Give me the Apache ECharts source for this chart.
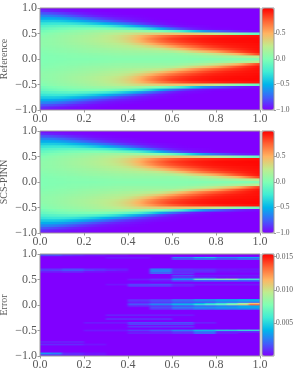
<!DOCTYPE html>
<html><head><meta charset="utf-8">
<style>html,body{margin:0;padding:0;background:#fff}#c{width:296px;height:375px}</style>
<script src="https://cdn.jsdelivr.net/npm/echarts@6/dist/echarts.min.js"></script>
</head><body>
<svg width="0" height="0" style="position:absolute">
<filter id="softU" filterUnits="userSpaceOnUse" x="0" y="0" width="296" height="375" color-interpolation-filters="sRGB"><feGaussianBlur stdDeviation="4 0.7"/></filter>
<filter id="softE" filterUnits="userSpaceOnUse" x="0" y="0" width="296" height="375" color-interpolation-filters="sRGB"><feGaussianBlur stdDeviation="1 0.5"/></filter>
</svg>
<div id="c"></div>
<script>
// Field: one list per x = 0, 0.05 ... 1, values for y = 1, 0.95 ... 0 (field is mirrored about y = 0)
var uColumns = [
[-1,-.88,-.77,-.64,-.52,-.4,-.29,-.19,-.11,-.05,0,.03,.05,.06,.06,.05,.03,.02,.01,0,0],
[-1,-.92,-.8,-.66,-.52,-.39,-.27,-.16,-.07,-.01,.04,.06,.07,.07,.07,.06,.05,.03,.02,.01,.01],
[-1,-.95,-.85,-.72,-.56,-.41,-.27,-.14,-.04,.02,.07,.09,.1,.1,.09,.08,.06,.05,.03,.02,.01],
[-1,-.97,-.9,-.79,-.64,-.47,-.29,-.13,-.02,.05,.09,.12,.13,.13,.12,.1,.08,.06,.04,.03,.02],
[-1,-.98,-.94,-.86,-.72,-.54,-.34,-.15,-.01,.08,.12,.15,.16,.16,.14,.12,.1,.08,.05,.03,.02],
[-1,-.99,-.97,-.91,-.8,-.63,-.41,-.18,0,.1,.16,.18,.2,.19,.17,.14,.11,.09,.06,.04,.02],
[-1,-1,-.98,-.95,-.87,-.72,-.5,-.24,-.01,.12,.19,.23,.24,.23,.2,.17,.13,.1,.07,.04,.03],
[-1,-1,-.99,-.97,-.92,-.81,-.6,-.32,-.05,.13,.23,.28,.29,.27,.23,.19,.15,.11,.08,.05,.03],
[-1,-1,-1,-.98,-.95,-.88,-.71,-.43,-.11,.13,.28,.35,.37,.34,.28,.22,.17,.12,.09,.05,.03],
[-1,-1,-1,-.99,-.97,-.93,-.82,-.56,-.2,.11,.33,.46,.5,.46,.37,.27,.19,.13,.09,.05,.03],
[-1,-1,-1,-1,-.99,-.96,-.9,-.71,-.34,.06,.36,.58,.64,.6,.48,.34,.22,.14,.09,.05,.03],
[-1,-1,-1,-1,-1,-.98,-.95,-.84,-.52,0,.4,.68,.75,.72,.6,.43,.26,.15,.09,.05,.03],
[-1,-1,-1,-1,-1,-.99,-.98,-.92,-.7,-.1,.42,.76,.84,.8,.7,.55,.35,.18,.08,.05,.03],
[-1,-1,-1,-1,-1,-1,-.99,-.97,-.84,-.25,.42,.82,.88,.86,.78,.66,.47,.25,.11,.05,.03],
[-1,-1,-1,-1,-1,-1,-1,-.98,-.93,-.42,.4,.86,.92,.9,.84,.74,.6,.35,.15,.06,.02],
[-1,-1,-1,-1,-1,-1,-1,-.99,-.97,-.6,.33,.89,.94,.93,.89,.82,.7,.45,.2,.08,.02],
[-1,-1,-1,-1,-1,-1,-1,-1,-.99,-.72,.24,.91,.96,.95,.92,.87,.78,.55,.28,.1,.02],
[-1,-1,-1,-1,-1,-1,-1,-1,-.99,-.82,.14,.93,.97,.96,.94,.91,.84,.68,.38,.12,.02],
[-1,-1,-1,-1,-1,-1,-1,-1,-1,-.9,.02,.94,.97,.97,.95,.93,.89,.8,.5,.15,.01],
[-1,-1,-1,-1,-1,-1,-1,-1,-1,-.95,-.05,.95,.98,.97,.96,.95,.93,.89,.68,.2,.01],
[-1,-1,-1,-1,-1,-1,-1,-1,-1,-.98,-.1,.96,.98,.98,.97,.96,.96,.95,.85,.25,.02]
];
// Error streaks, unit 1e-3: y value, then 20 cells of width 0.05 in x. Everything not listed is about 0.
var errorRows = [
[1,2.5,2.5,1.5,1,.5,.5,0,0,0,0,0,0,0,0,0,0,0,0,0,0],
[.975,1.5,1.5,1,.8,.5,.5,.3,.3,0,0,0,0,0,0,0,0,0,0,0,0],
[.925,0,0,0,0,0,0,.5,.5,.5,.5,0,0,2.8,2.8,4.2,4.4,3,3,3.5,3.5],
[.9,0,0,0,0,0,0,0,0,0,0,0,0,1.5,1.5,2,2,1.5,1.5,2,2],
[.7,1,1,1.5,1.5,1,1,.6,.6,0,0,2.5,2.5,1,1,.8,.8,.5,.5,.5,.5],
[.675,1.2,1.3,1.7,1.7,1.3,1,.8,.6,0,0,2.7,2.7,1,1,1,1,.5,.5,.3,.3],
[.65,.6,.6,.8,.8,.4,.4,.2,.2,0,0,2.5,2.5,.8,.8,.8,.8,.3,.3,.3,.3],
[.625,0,0,0,0,0,0,0,0,0,0,2,2,1,1,0,0,0,0,0,0],
[.575,0,0,0,0,0,0,0,0,0,0,0,0,1.5,1.5,.5,.5,.5,.5,.5,.5],
[.525,0,0,0,0,0,0,0,0,0,0,0,0,1.5,1.5,1.2,1.2,.5,.5,.5,.5],
[.5,0,0,0,0,0,0,0,0,.6,.6,1.2,1.2,3.6,3.6,7,7,8,8.5,6,6],
[.475,0,0,0,0,0,0,0,0,0,0,.5,.5,1.5,1.5,2,2,2,2,2,2],
[.4,0,0,0,0,0,0,.4,.4,1.3,1.3,1.5,1.5,.8,.8,.5,.5,.5,.5,.5,.5],
[.375,0,0,0,0,0,0,0,0,1.2,1.2,1.2,1.2,.6,.6,0,0,0,0,0,0],
[.1,0,0,0,0,0,0,0,0,.8,.8,1.2,1.2,2,2,2.8,2.8,3.2,3.2,3.6,3.6],
[.075,0,0,0,0,0,0,0,0,1.2,1.2,1.8,1.8,2.6,2.6,3.2,3.2,3.8,3.8,4.2,4.2],
[.05,0,0,0,0,0,0,0,0,.5,.5,1,1,1.5,1.5,1.5,1.5,2,2,2,2],
[.025,0,0,0,0,0,0,0,0,1.2,1.2,2,2,3,3,4,4.8,5.5,6.5,8.5,11],
[0,0,0,0,0,0,0,0,0,1.8,1.8,3,3,4.2,4.2,5.5,6.3,7,8.5,10.5,13],
[-.025,0,0,0,0,0,0,0,0,.6,.6,1,1,1.5,1.5,2,2,2.5,2.5,3.5,3.5],
[-.05,0,0,0,0,0,0,0,0,0,0,1.5,1.5,2.5,2.5,3,3,3.3,3.3,3.6,3.6],
[-.075,0,0,0,0,0,0,0,0,0,0,1.2,1.2,2,2,2.5,2.5,2.8,2.8,3,3],
[-.2,0,0,0,0,0,0,.6,.6,.6,.6,.6,.6,.5,.5,0,0,0,0,0,0],
[-.275,0,0,0,0,0,0,.8,.8,.8,.8,.8,.8,0,0,0,0,0,0,0,0],
[-.35,0,0,0,0,.5,.5,.5,.5,1.5,1.5,1.5,1.5,1.6,1.6,.6,.6,0,0,0,0],
[-.375,0,0,0,0,0,0,0,0,1.2,1.2,1.2,1.2,1.2,1.2,0,0,0,0,0,0],
[-.425,0,0,0,0,0,0,0,0,1,1,1,1,1,1,0,0,0,0,0,0],
[-.5,0,0,0,0,.5,.5,.5,.5,1.2,1.2,1.8,1.8,2.8,2.8,4.2,4.2,5,5,5.5,5.5],
[-.525,0,0,0,0,0,0,0,0,0,0,.8,.8,1.4,1.4,2.5,2.5,1,1,1,1],
[-.55,0,0,0,0,0,0,0,0,.6,.6,.6,.6,1,1,2.2,2.2,.6,.6,0,0],
[-.725,.6,.6,.6,.6,0,0,0,0,0,0,0,0,0,0,0,0,0,0,0,0],
[-.775,.8,.8,.8,.8,.4,.4,0,0,0,0,0,0,0,0,0,0,0,0,0,0],
[-.95,3.5,3,.8,.8,.4,.4,0,0,0,0,0,0,0,0,0,0,0,0,0,0],
[-.975,1.5,1.5,.8,.8,.4,.4,0,0,0,0,0,0,0,0,0,0,0,0,0,0]
];
var panelNames = ['Reference','SCS-PINN','Error'];
var uBarTicks = [-1,-0.5,0,0.5];
var errBarTicks = [0.005,0.01,0.015];
var rainbow = ['#8000ff','#4062fa','#00b5eb','#40ecd4','#80ffb4','#bfec8e','#ffb462','#ff6232','#ff0000'];

var gray = '#999999', textCol = '#5a5a5a', serif = '"Liberation Serif","DejaVu Serif",serif';
var panelTop = [8,131,254], pLeft = 40, pW = 220, pH = 102, barLeft = 262, barW = 12;

function fmtTick(v,d){ return (v<0?'\u2212':'') + Math.abs(v).toFixed(d); }
function idx(n){ var a=[]; for(var i=0;i<n;i++) a.push(String(i)); return a; }

var grids=[], xAxes=[], yAxes=[], series=[], visualMaps=[];

// u cells: one padding column each side and two padding rows top and bottom repeat the edge values,
// so that the soft rendering does not fade at the plot edges (they are clipped away).
var uPadC = 1, uPadR = 2, uNC = uColumns.length, uNR = 41;
var uData = [];
for (var c=-uPadC; c<uNC+uPadC; c++) {
  var col = uColumns[Math.min(uNC-1,Math.max(0,c))];
  for (var r=-uPadR; r<uNR+uPadR; r++) {
    var k = r<0||r>=uNR ? 0 : (r<=20 ? r : 40-r);
    uData.push([c+uPadC, r+uPadR, col[k]]);
  }
}
// error cells, same idea
var ePadC = 2, ePadR = 4, eNC = 20, eNR = 81;
var eData = [];
errorRows.forEach(function(row){
  var ri = Math.round((row[0]+1)/0.025);
  for (var c=-ePadC; c<eNC+ePadC; c++) {
    var v = row[1+Math.min(eNC-1,Math.max(0,c))];
    if (v>0) eData.push([c+ePadC, ri+ePadR, v*1e-3]);
  }
});

function addCells(left, top, w, h, nC, nR, data, zl, z){
  var g = grids.length;
  grids.push({left:left,top:top,width:w,height:h,outerBoundsMode:'none',show:true,borderWidth:0,backgroundColor:'#8000ff',zlevel:zl,z:0});
  xAxes.push({gridIndex:g,type:'category',show:false,data:idx(nC)});
  yAxes.push({gridIndex:g,type:'category',show:false,data:idx(nR)});
  series.push({type:'heatmap',xAxisIndex:xAxes.length-1,yAxisIndex:yAxes.length-1,data:data,
    itemStyle:{borderWidth:0},emphasis:{disabled:true},silent:true,progressive:0,zlevel:zl,z:z});
  return series.length-1;
}

[0,1,2].forEach(function(p){
  var t = panelTop[p], isErr = p===2;
  var zl = isErr ? 2 : 1;
  var colW = pW/20;
  var rowH = isErr ? pH/80 : pH/40;
  var nC = isErr ? eNC+2*ePadC : uNC+2*uPadC;
  var nR = isErr ? eNR+2*ePadR : uNR+2*uPadR;
  var cellLeft = isErr ? pLeft-ePadC*colW : pLeft-(uPadC+0.5)*colW;
  var cellTop = t-((isErr?ePadR:uPadR)+0.5)*rowH;
  var idxs = [];
  // the u field is drawn twice, the lower copy one pixel down, to cover hairline seams between fractional rows
  if (!isErr) idxs.push(addCells(cellLeft,cellTop+1,nC*colW,nR*rowH,nC,nR,uData,zl,1));
  idxs.push(addCells(cellLeft,cellTop,nC*colW,nR*rowH,nC,nR,isErr?eData:uData,zl,2));
  visualMaps.push({type:'continuous',seriesIndex:idxs,dimension:2,
    min:isErr?0:-1,max:isErr?0.0154:1,inRange:{color:rainbow},calculable:false,hoverLink:false,
    left:barLeft,top:t,itemWidth:barW,itemHeight:pH,text:['',''],textGap:0,padding:0,zlevel:3,z:3,
    textStyle:{fontSize:1,color:'rgba(0,0,0,0)'},showLabel:false});
  var g = grids.length;
  grids.push({left:pLeft,top:t,width:pW,height:pH,outerBoundsMode:'none',show:true,borderColor:gray,borderWidth:1,backgroundColor:'transparent',zlevel:3,z:6});
  xAxes.push({gridIndex:g,type:'value',min:0,max:1,interval:0.2,zlevel:3,z:7,splitLine:{show:false},
    axisLine:{show:false,onZero:false},axisTick:{length:2.5,lineStyle:{color:gray,width:1}},
    axisLabel:{margin:3,fontFamily:serif,fontSize:12,color:textCol,formatter:function(v){return fmtTick(v,1);}}});
  yAxes.push({gridIndex:g,type:'value',min:-1,max:1,interval:0.5,zlevel:3,z:7,splitLine:{show:false},
    axisLine:{show:false,onZero:false},axisTick:{length:2.5,lineStyle:{color:gray,width:1}},
    name:panelNames[p],nameLocation:'middle',nameGap:31,nameRotate:90,nameMoveOverlap:false,
    nameTextStyle:{fontFamily:serif,fontSize:10,color:textCol},
    axisLabel:{margin:3,fontFamily:serif,fontSize:12,color:textCol,formatter:function(v){return fmtTick(v,1);}}});
  g = grids.length;
  grids.push({left:barLeft,top:t,width:barW,height:pH,outerBoundsMode:'none',show:true,borderColor:gray,borderWidth:1,backgroundColor:'transparent',zlevel:3,z:6});
  xAxes.push({gridIndex:g,type:'value',show:false,min:0,max:1});
  yAxes.push({gridIndex:g,type:'value',position:'right',min:isErr?0:-1,max:isErr?0.0154:1,zlevel:3,z:7,
    splitLine:{show:false},axisLine:{show:false,onZero:false},
    axisTick:{length:2,lineStyle:{color:gray,width:1},customValues:isErr?errBarTicks:uBarTicks},
    axisLabel:{margin:2,fontFamily:serif,fontSize:7.5,color:textCol,customValues:isErr?errBarTicks:uBarTicks,
      hideOverlap:false,showMinLabel:true,showMaxLabel:true,
      formatter:function(v){return fmtTick(v,isErr?3:1);}}});
});

var chart = echarts.init(document.getElementById('c'),null,{renderer:'canvas'});
chart.setOption({animation:false,backgroundColor:'#fff',grid:grids,xAxis:xAxes,yAxis:yAxes,visualMap:visualMaps,series:series});

// soften the two heatmap layers the way the original raster is smoothed, and clip them to the plot rectangles
function soften(level, filterId, tops){
  var cv = document.querySelector('canvas[data-zr-dom-id="zr_'+level+'"]');
  if(!cv) return;
  cv.style.filter = 'url(#'+filterId+')';
  cv.style.clipPath = "path('" + tops.map(function(t){return 'M'+pLeft+' '+t+'H'+(pLeft+pW)+'V'+(t+pH)+'H'+pLeft+'Z';}).join(' ') + "')";
}
soften(1,'softU',[panelTop[0],panelTop[1]]);
soften(2,'softE',[panelTop[2]]);
</script></body></html>
